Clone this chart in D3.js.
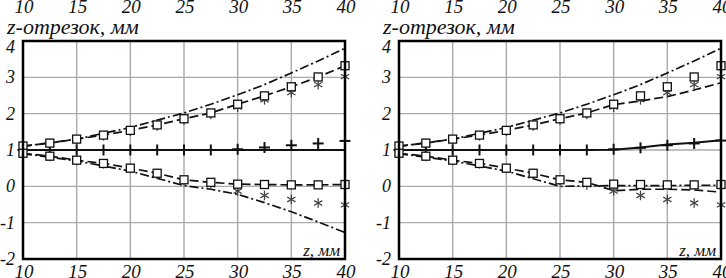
<!DOCTYPE html>
<html lang="ru">
<head>
<meta charset="UTF-8">
<title>z-отрезок</title>
<script src="https://d3js.org/d3.v7.min.js"></script>
<style>
  body { margin: 0; background: #fff; }
  svg text { font-family: "Liberation Serif", "DejaVu Serif", serif; font-style: italic; fill: #111; }
</style>
</head>
<body>
<svg id="chart" width="726" height="278"></svg>
<script>
// x positions of the measured points, mm
const zPoints = [10, 12.5, 15, 17.5, 20, 22.5, 25, 27.5, 30, 32.5, 35, 37.5, 40];
// x positions of the calculated curves
const zCurve = [10, 15, 20, 25, 27.5, 30, 32.5, 35, 37.5, 40];

const xTicks = [10, 15, 20, 25, 30, 35, 40];
const yTicks = [-2, -1, 0, 1, 2, 3, 4];

// squares (same on both panels)
const squaresUpper = [1.11, 1.19, 1.3, 1.41, 1.54, 1.69, 1.86, 2.02, 2.26, 2.49, 2.74, 3.01, 3.32];
const squaresLower = [0.91, 0.83, 0.72, 0.63, 0.5, 0.36, 0.18, 0.11, 0.06, 0.05, 0.04, 0.04, 0.05];
// asterisks
const starsUpper = [1.1, 1.18, 1.28, 1.39, 1.52, 1.66, 1.83, 1.98, 2.18, 2.38, 2.58, 2.8, 3.02];
const starsLower = [0.9, 0.82, 0.71, 0.62, 0.49, 0.35, 0.16, 0.04, -0.13, -0.25, -0.36, -0.46, -0.51];
// crosses
const crossLeft = [1, 1, 1, 1, 1, 1, 1, 1, 1.02, 1.07, 1.13, 1.18, 1.25];
const crossRight = [1, 1, 1, 1, 1, 1, 1, 1, 1.02, 1.06, 1.13, 1.18, 1.26];

// calculated curves (on zCurve)
const curveUpper = [1.1, 1.3, 1.62, 2.02, 2.26, 2.52, 2.8, 3.12, 3.45, 3.8];
const curveLowerLeft = [0.9, 0.7, 0.42, 0.02, -0.08, -0.22, -0.45, -0.7, -0.98, -1.27];
const curveLowerRight = [0.9, 0.7, 0.42, 0.0, 0.01, 0.02, 0.02, 0.02, 0.03, 0.03];
// dashed lines through the squares (on zPoints)
const dashUpperLeft = squaresUpper;
const dashLowerLeft = squaresLower;
const dashUpperRight = [1.11, 1.19, 1.3, 1.41, 1.54, 1.69, 1.86, 2.02, 2.25, 2.35, 2.47, 2.65, 2.85];
const dashLowerRight = [0.91, 0.83, 0.72, 0.63, 0.5, 0.36, 0.18, 0.11, -0.12, -0.08, -0.08, -0.1, -0.16];
// solid line through the crosses
const solidLeft = [1, 1, 1, 1, 1, 1, 1, 1, 1, 1, 1, 1, 1];
const solidRight = [1, 1, 1, 1, 1, 1, 1, 1, 1.01, 1.07, 1.15, 1.2, 1.27];

const svg = d3.select("#chart");
const W = 322, H = 218;

const x = d3.scaleLinear().domain([10, 40]).range([0, W]);
const y = d3.scaleLinear().domain([-2, 4]).range([H, 0]);

function pairs(xs, ys) {
  return xs.map((d, i) => [d, ys[i]]);
}

function drawPanel(left, top, cfg) {
  const g = svg.append("g").attr("transform", `translate(${left},${top})`);

  // grid
  g.append("g").selectAll("line")
    .data(xTicks.slice(1, -1))
    .enter().append("line")
    .attr("x1", d => x(d)).attr("x2", d => x(d))
    .attr("y1", 0).attr("y2", H)
    .attr("stroke", "#aaa").attr("stroke-width", 1.4);
  g.append("g").selectAll("line")
    .data(yTicks.slice(1, -1))
    .enter().append("line")
    .attr("x1", 0).attr("x2", W)
    .attr("y1", d => y(d)).attr("y2", d => y(d))
    .attr("stroke", "#aaa").attr("stroke-width", 1.4);

  const line = d3.line().x(d => x(d[0])).y(d => y(d[1]));

  // curves
  const lines = [
    { xs: zCurve, ys: curveUpper, dash: "9,3,2,3" },
    { xs: zCurve, ys: cfg.curveLower, dash: "9,3,2,3" },
    { xs: zPoints, ys: cfg.dashUpper, dash: "9,4" },
    { xs: zPoints, ys: cfg.dashLower, dash: "9,4" },
    { xs: zPoints, ys: cfg.solid, dash: null }
  ];
  g.append("g").selectAll("path")
    .data(lines)
    .enter().append("path")
    .attr("d", d => line(pairs(d.xs, d.ys)))
    .attr("fill", "none")
    .attr("stroke", "#111")
    .attr("stroke-width", d => d.dash ? 1.7 : 2)
    .attr("stroke-dasharray", d => d.dash);

  // asterisks
  const stars = pairs(zPoints, starsUpper).concat(pairs(zPoints, starsLower));
  const r = 4.8;
  const star = g.append("g").selectAll("g")
    .data(stars)
    .enter().append("g")
    .attr("transform", d => `translate(${x(d[0])},${y(d[1])})`);
  [0, 60, 120].forEach(a => {
    const rad = a * Math.PI / 180;
    star.append("line")
      .attr("x1", -r * Math.sin(rad)).attr("y1", -r * Math.cos(rad))
      .attr("x2", r * Math.sin(rad)).attr("y2", r * Math.cos(rad))
      .attr("stroke", "#444").attr("stroke-width", 1.3);
  });

  // crosses
  const cross = g.append("g").selectAll("g")
    .data(pairs(zPoints, cfg.cross))
    .enter().append("g")
    .attr("transform", d => `translate(${x(d[0])},${y(d[1])})`);
  cross.append("line").attr("x1", -5.5).attr("x2", 5.5).attr("y1", 0).attr("y2", 0)
    .attr("stroke", "#111").attr("stroke-width", 2);
  cross.append("line").attr("x1", 0).attr("x2", 0).attr("y1", -5.5).attr("y2", 5.5)
    .attr("stroke", "#111").attr("stroke-width", 2);

  // squares
  const squares = pairs(zPoints, squaresUpper).concat(pairs(zPoints, squaresLower));
  g.append("g").selectAll("rect")
    .data(squares)
    .enter().append("rect")
    .attr("x", d => x(d[0]) - 4).attr("y", d => y(d[1]) - 4)
    .attr("width", 8).attr("height", 8)
    .attr("fill", "#fff").attr("stroke", "#111").attr("stroke-width", 1.3);

  // frame
  g.append("rect")
    .attr("width", W).attr("height", H)
    .attr("fill", "none").attr("stroke", "#000").attr("stroke-width", 2.5);

  // y tick labels
  g.append("g").selectAll("text")
    .data(yTicks)
    .enter().append("text")
    .attr("x", -8)
    .attr("y", d => y(d) + (d === 4 ? 12 : 6))
    .attr("text-anchor", "end")
    .attr("font-size", 18)
    .text(d => d);

  // x tick labels, bottom and top (top row belongs to the panel above)
  [H + 19, -28].forEach(yy => {
    g.append("g").selectAll("text")
      .data(xTicks)
      .enter().append("text")
      .attr("x", d => x(d) + 1)
      .attr("y", yy)
      .attr("text-anchor", "middle")
      .attr("font-size", 19)
      .text(d => d);
  });

  // axis titles
  g.append("text")
    .attr("x", -16).attr("y", -7)
    .attr("font-size", 22)
    .text("z-отрезок, мм");
  g.append("text")
    .attr("x", W - 5).attr("y", H - 3)
    .attr("text-anchor", "end")
    .attr("font-size", 17)
    .text("z, мм");
}

drawPanel(23, 41, {
  curveLower: curveLowerLeft,
  dashUpper: dashUpperLeft,
  dashLower: dashLowerLeft,
  solid: solidLeft,
  cross: crossLeft
});
drawPanel(399, 41, {
  curveLower: curveLowerRight,
  dashUpper: dashUpperRight,
  dashLower: dashLowerRight,
  solid: solidRight,
  cross: crossRight
});
</script>
</body>
</html>
